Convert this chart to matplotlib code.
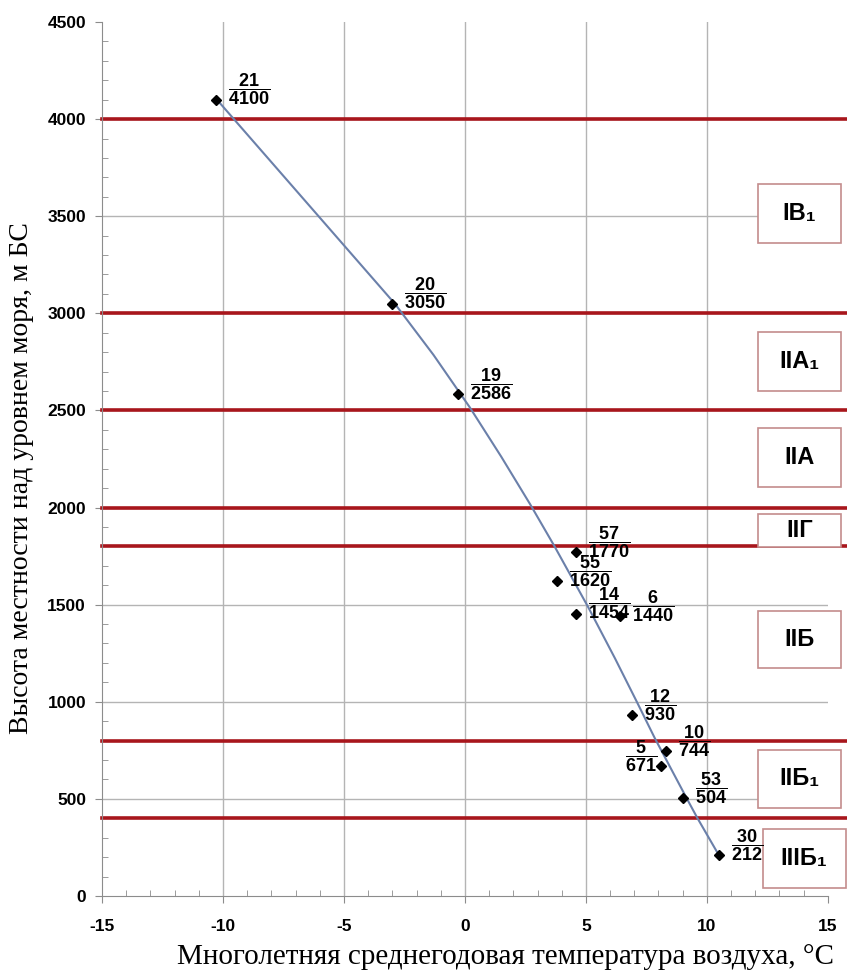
import matplotlib.pyplot as plt
from matplotlib.patches import Rectangle
from matplotlib.ticker import MultipleLocator

plt.rcParams['font.family'] = ['Liberation Sans', 'DejaVu Sans']
plt.rcParams['mathtext.fontset'] = 'custom'
plt.rcParams['mathtext.bf'] = 'Liberation Sans:bold'
plt.rcParams['mathtext.rm'] = 'Liberation Sans'
plt.rcParams['axes.unicode_minus'] = False

# station number, mean annual air temperature (°C), altitude (m)
station_ids = ['21', '20', '19', '57', '55', '14', '6', '12', '10', '5', '53', '30']
temperature = [-10.3, -3.0, -0.3, 4.6, 3.8, 4.6, 6.4, 6.9, 8.3, 8.1, 9.0, 10.5]
altitude = [4100, 3050, 2586, 1770, 1620, 1454, 1440, 930, 744, 671, 504, 212]

# points on the trend line
trend_t = [-10.25, -2.9, -1.3, 0.2, 1.5, 2.7, 3.7, 5.1, 6.2, 7.1, 7.85, 9.2, 9.6, 10.45]
trend_h = [4100, 3050, 2786, 2516, 2262, 2016, 1801, 1486, 1224, 1001, 812, 495, 403, 220]

# boundaries between altitudinal zones
zone_bounds = [4000, 3000, 2500, 2000, 1800, 800, 400]

# zone labels and the altitude span of their boxes
zone_names = ['IВ₁', 'IIА₁', 'IIА', 'IIГ', 'IIБ', 'IIБ₁', 'IIIБ₁']
zone_low = [3360, 2600, 2105, 1797, 1175, 453, 40]
zone_high = [3665, 2905, 2410, 1967, 1467, 752, 345]

x_ticks = [-15, -10, -5, 0, 5, 10, 15]
y_ticks = [0, 500, 1000, 1500, 2000, 2500, 3000, 3500, 4000, 4500]

fig = plt.figure(figsize=(8.47, 9.72), dpi=100)
ax = fig.add_axes([0.1204, 0.0782, 0.857, 0.8992])

ax.set_xlim(-15, 15)
ax.set_ylim(0, 4500)

# grid (manual so the edges stay clean)
for t in x_ticks[1:-1]:
    ax.axvline(t, color='#b4b4b4', lw=1.0, zorder=1)
for t in y_ticks[1:-1]:
    ax.axhline(t, color='#b4b4b4', lw=1.0, zorder=1)

# zone boundaries, running past the right edge of the axes
for b in zone_bounds:
    ax.axhline(b, xmin=0, xmax=1.04, color='#a8161c', lw=2.6, clip_on=False, zorder=2)

ax.plot(trend_t, trend_h, color='#6b80aa', lw=1.5, zorder=3)
ax.plot(temperature, altitude, 'D', color='black', markersize=5, zorder=4)

# fraction labels: station number over altitude
for sid, t, h in zip(station_ids, temperature, altitude):
    if sid == '5':
        off, ha = (-4, 9), 'right'
    else:
        off, ha = (12, 10), 'left'
    ax.annotate(r'$\dfrac{\mathbf{%s}}{\mathbf{%d}}$' % (sid, h), (t, h),
                xytext=off, textcoords='offset pixels', ha=ha, va='center',
                fontsize=13, zorder=7)

# zone boxes on the right
for name, lo, hi in zip(zone_names, zone_low, zone_high):
    x0 = 12.3 if name == 'IIIБ₁' else 12.1
    ax.add_patch(Rectangle((x0, lo), 3.45, hi - lo, facecolor='white',
                           edgecolor='#c48c8c', lw=1.2, clip_on=False, zorder=5))
    ax.text(x0 + 1.72, (lo + hi) / 2, name, ha='center', va='center',
            fontsize=17, fontweight='bold', zorder=6, clip_on=False)

ax.set_xticks(x_ticks)
ax.set_yticks(y_ticks)
ax.xaxis.set_minor_locator(MultipleLocator(1))
ax.yaxis.set_minor_locator(MultipleLocator(100))
ax.tick_params(which='major', direction='out', length=5, color='#8c8c8c',
               labelsize=12.5)
ax.tick_params(axis='x', which='major', pad=11.5)
ax.tick_params(axis='y', which='major', pad=6.5)
ax.tick_params(which='minor', direction='in', length=4, color='#8c8c8c')
for lbl in ax.get_xticklabels() + ax.get_yticklabels():
    lbl.set_fontweight('bold')

for s in ['top', 'right']:
    ax.spines[s].set_visible(False)
for s in ['left', 'bottom']:
    ax.spines[s].set_color('#8c8c8c')

ax.set_xlabel('Многолетняя среднегодовая температура воздуха, °C',
              family='Liberation Serif', fontsize=21)
ax.xaxis.set_label_coords(0.556, -0.055)
ax.set_ylabel('Высота местности над уровнем моря, м БС',
              family='Liberation Serif', fontsize=20)
ax.yaxis.set_label_coords(-0.093, 0.478)

fig.savefig('out.png', dpi=100)
